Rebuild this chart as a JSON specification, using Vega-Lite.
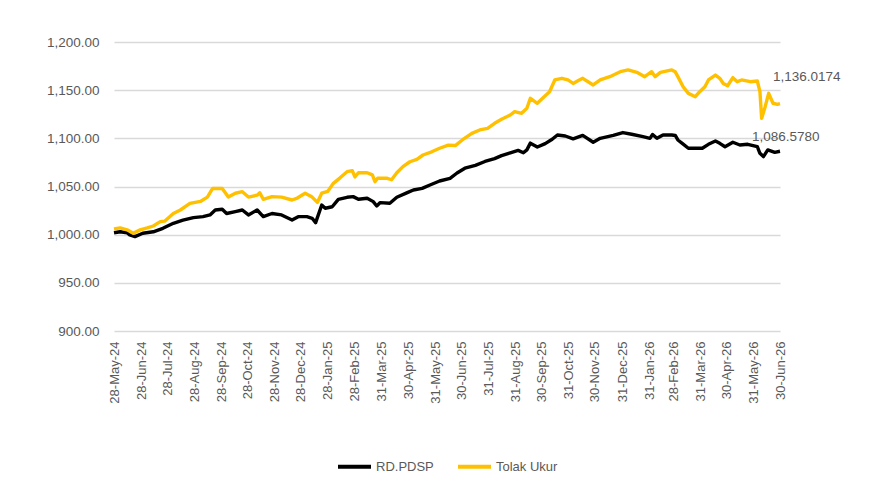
{
  "$schema": "https://vega.github.io/schema/vega-lite/v6.json",
  "width": 666,
  "height": 289,
  "autosize": {"type": "none"},
  "padding": {"left": 114, "top": 42, "right": 92, "bottom": 155},
  "background": "white",
  "config": {"view": {"stroke": null}, "font": "Liberation Sans"},
  "data": {
    "values": [
      {"date":"2024-05-28","series":"RD.PDSP","value":1002},
      {"date":"2024-06-04","series":"RD.PDSP","value":1003},
      {"date":"2024-06-12","series":"RD.PDSP","value":1002},
      {"date":"2024-06-15","series":"RD.PDSP","value":999.7},
      {"date":"2024-06-21","series":"RD.PDSP","value":998},
      {"date":"2024-06-30","series":"RD.PDSP","value":1001.5},
      {"date":"2024-07-12","series":"RD.PDSP","value":1003},
      {"date":"2024-07-23","series":"RD.PDSP","value":1006.6},
      {"date":"2024-08-04","series":"RD.PDSP","value":1011.8},
      {"date":"2024-08-15","series":"RD.PDSP","value":1015},
      {"date":"2024-08-27","series":"RD.PDSP","value":1017.7},
      {"date":"2024-09-07","series":"RD.PDSP","value":1018.7},
      {"date":"2024-09-15","series":"RD.PDSP","value":1020.5},
      {"date":"2024-09-21","series":"RD.PDSP","value":1025.6},
      {"date":"2024-09-29","series":"RD.PDSP","value":1026.4},
      {"date":"2024-10-04","series":"RD.PDSP","value":1022},
      {"date":"2024-10-14","series":"RD.PDSP","value":1024},
      {"date":"2024-10-22","series":"RD.PDSP","value":1025.6},
      {"date":"2024-10-29","series":"RD.PDSP","value":1020.5},
      {"date":"2024-11-08","series":"RD.PDSP","value":1025.6},
      {"date":"2024-11-15","series":"RD.PDSP","value":1018.7},
      {"date":"2024-11-25","series":"RD.PDSP","value":1022},
      {"date":"2024-12-06","series":"RD.PDSP","value":1020.5},
      {"date":"2024-12-18","series":"RD.PDSP","value":1015.2},
      {"date":"2024-12-25","series":"RD.PDSP","value":1018.7},
      {"date":"2025-01-04","series":"RD.PDSP","value":1018.7},
      {"date":"2025-01-10","series":"RD.PDSP","value":1017},
      {"date":"2025-01-14","series":"RD.PDSP","value":1012.5},
      {"date":"2025-01-21","series":"RD.PDSP","value":1030.8},
      {"date":"2025-01-25","series":"RD.PDSP","value":1027.4},
      {"date":"2025-02-02","series":"RD.PDSP","value":1029},
      {"date":"2025-02-09","series":"RD.PDSP","value":1036.7},
      {"date":"2025-02-19","series":"RD.PDSP","value":1038.8},
      {"date":"2025-02-26","series":"RD.PDSP","value":1039.5},
      {"date":"2025-03-04","series":"RD.PDSP","value":1036.7},
      {"date":"2025-03-14","series":"RD.PDSP","value":1037.8},
      {"date":"2025-03-21","series":"RD.PDSP","value":1034.3},
      {"date":"2025-03-25","series":"RD.PDSP","value":1029.8},
      {"date":"2025-03-29","series":"RD.PDSP","value":1033.3},
      {"date":"2025-04-09","series":"RD.PDSP","value":1032.6},
      {"date":"2025-04-17","series":"RD.PDSP","value":1038.8},
      {"date":"2025-04-29","series":"RD.PDSP","value":1043.6},
      {"date":"2025-05-06","series":"RD.PDSP","value":1046.4},
      {"date":"2025-05-16","series":"RD.PDSP","value":1048},
      {"date":"2025-05-25","series":"RD.PDSP","value":1051.6},
      {"date":"2025-06-05","series":"RD.PDSP","value":1055.7},
      {"date":"2025-06-17","series":"RD.PDSP","value":1058.5},
      {"date":"2025-06-25","series":"RD.PDSP","value":1064},
      {"date":"2025-07-04","series":"RD.PDSP","value":1069},
      {"date":"2025-07-16","series":"RD.PDSP","value":1072},
      {"date":"2025-07-27","series":"RD.PDSP","value":1076},
      {"date":"2025-08-07","series":"RD.PDSP","value":1079},
      {"date":"2025-08-15","series":"RD.PDSP","value":1082},
      {"date":"2025-08-25","series":"RD.PDSP","value":1085},
      {"date":"2025-09-03","series":"RD.PDSP","value":1087.5},
      {"date":"2025-09-09","series":"RD.PDSP","value":1085},
      {"date":"2025-09-13","series":"RD.PDSP","value":1088},
      {"date":"2025-09-17","series":"RD.PDSP","value":1095},
      {"date":"2025-09-25","series":"RD.PDSP","value":1091},
      {"date":"2025-10-04","series":"RD.PDSP","value":1094.5},
      {"date":"2025-10-12","series":"RD.PDSP","value":1099},
      {"date":"2025-10-18","series":"RD.PDSP","value":1103.5},
      {"date":"2025-10-27","series":"RD.PDSP","value":1102.4},
      {"date":"2025-11-05","series":"RD.PDSP","value":1099.5},
      {"date":"2025-11-16","series":"RD.PDSP","value":1103},
      {"date":"2025-11-28","series":"RD.PDSP","value":1095.9},
      {"date":"2025-12-06","series":"RD.PDSP","value":1100},
      {"date":"2025-12-21","series":"RD.PDSP","value":1103},
      {"date":"2026-01-01","series":"RD.PDSP","value":1106},
      {"date":"2026-01-11","series":"RD.PDSP","value":1104.2},
      {"date":"2026-01-24","series":"RD.PDSP","value":1101.7},
      {"date":"2026-02-01","series":"RD.PDSP","value":1100},
      {"date":"2026-02-04","series":"RD.PDSP","value":1104},
      {"date":"2026-02-09","series":"RD.PDSP","value":1100},
      {"date":"2026-02-16","series":"RD.PDSP","value":1103.5},
      {"date":"2026-02-26","series":"RD.PDSP","value":1103.5},
      {"date":"2026-03-02","series":"RD.PDSP","value":1103},
      {"date":"2026-03-05","series":"RD.PDSP","value":1098.3},
      {"date":"2026-03-10","series":"RD.PDSP","value":1094.8},
      {"date":"2026-03-17","series":"RD.PDSP","value":1089.7},
      {"date":"2026-04-02","series":"RD.PDSP","value":1089.7},
      {"date":"2026-04-09","series":"RD.PDSP","value":1093.8},
      {"date":"2026-04-17","series":"RD.PDSP","value":1097.2},
      {"date":"2026-04-22","series":"RD.PDSP","value":1094.8},
      {"date":"2026-04-28","series":"RD.PDSP","value":1091.3},
      {"date":"2026-05-07","series":"RD.PDSP","value":1095.9},
      {"date":"2026-05-15","series":"RD.PDSP","value":1093.1},
      {"date":"2026-05-24","series":"RD.PDSP","value":1093.8},
      {"date":"2026-06-04","series":"RD.PDSP","value":1091.3},
      {"date":"2026-06-07","series":"RD.PDSP","value":1084.5},
      {"date":"2026-06-11","series":"RD.PDSP","value":1081},
      {"date":"2026-06-16","series":"RD.PDSP","value":1088},
      {"date":"2026-06-24","series":"RD.PDSP","value":1085.5},
      {"date":"2026-06-30","series":"RD.PDSP","value":1086.578},
      {"date":"2024-05-28","series":"Tolak Ukur","value":1006},
      {"date":"2024-06-04","series":"Tolak Ukur","value":1007},
      {"date":"2024-06-12","series":"Tolak Ukur","value":1005},
      {"date":"2024-06-19","series":"Tolak Ukur","value":1001.5},
      {"date":"2024-06-27","series":"Tolak Ukur","value":1005},
      {"date":"2024-07-05","series":"Tolak Ukur","value":1007},
      {"date":"2024-07-12","series":"Tolak Ukur","value":1009},
      {"date":"2024-07-20","series":"Tolak Ukur","value":1013.5},
      {"date":"2024-07-25","series":"Tolak Ukur","value":1014},
      {"date":"2024-08-04","series":"Tolak Ukur","value":1022},
      {"date":"2024-08-12","series":"Tolak Ukur","value":1025.6},
      {"date":"2024-08-23","series":"Tolak Ukur","value":1032.5},
      {"date":"2024-09-04","series":"Tolak Ukur","value":1034.5},
      {"date":"2024-09-12","series":"Tolak Ukur","value":1039},
      {"date":"2024-09-18","series":"Tolak Ukur","value":1048},
      {"date":"2024-09-29","series":"Tolak Ukur","value":1048},
      {"date":"2024-10-06","series":"Tolak Ukur","value":1039},
      {"date":"2024-10-14","series":"Tolak Ukur","value":1043},
      {"date":"2024-10-22","series":"Tolak Ukur","value":1044.6},
      {"date":"2024-10-29","series":"Tolak Ukur","value":1039},
      {"date":"2024-11-08","series":"Tolak Ukur","value":1041},
      {"date":"2024-11-11","series":"Tolak Ukur","value":1043.5},
      {"date":"2024-11-15","series":"Tolak Ukur","value":1036.7},
      {"date":"2024-11-25","series":"Tolak Ukur","value":1039.5},
      {"date":"2024-12-06","series":"Tolak Ukur","value":1039},
      {"date":"2024-12-18","series":"Tolak Ukur","value":1036},
      {"date":"2024-12-24","series":"Tolak Ukur","value":1038},
      {"date":"2025-01-02","series":"Tolak Ukur","value":1043},
      {"date":"2025-01-10","series":"Tolak Ukur","value":1039},
      {"date":"2025-01-16","series":"Tolak Ukur","value":1033.5},
      {"date":"2025-01-21","series":"Tolak Ukur","value":1043},
      {"date":"2025-01-28","series":"Tolak Ukur","value":1045},
      {"date":"2025-02-03","series":"Tolak Ukur","value":1053},
      {"date":"2025-02-11","series":"Tolak Ukur","value":1059},
      {"date":"2025-02-19","series":"Tolak Ukur","value":1065.4},
      {"date":"2025-02-25","series":"Tolak Ukur","value":1066.4},
      {"date":"2025-02-28","series":"Tolak Ukur","value":1060},
      {"date":"2025-03-04","series":"Tolak Ukur","value":1064.3},
      {"date":"2025-03-14","series":"Tolak Ukur","value":1064.3},
      {"date":"2025-03-20","series":"Tolak Ukur","value":1062},
      {"date":"2025-03-23","series":"Tolak Ukur","value":1055},
      {"date":"2025-03-26","series":"Tolak Ukur","value":1058.5},
      {"date":"2025-04-06","series":"Tolak Ukur","value":1058.5},
      {"date":"2025-04-11","series":"Tolak Ukur","value":1057},
      {"date":"2025-04-17","series":"Tolak Ukur","value":1064.3},
      {"date":"2025-04-24","series":"Tolak Ukur","value":1070.6},
      {"date":"2025-05-02","series":"Tolak Ukur","value":1075.7},
      {"date":"2025-05-10","series":"Tolak Ukur","value":1078.2},
      {"date":"2025-05-17","series":"Tolak Ukur","value":1082.7},
      {"date":"2025-05-27","series":"Tolak Ukur","value":1086},
      {"date":"2025-06-05","series":"Tolak Ukur","value":1089.7},
      {"date":"2025-06-15","series":"Tolak Ukur","value":1093},
      {"date":"2025-06-23","series":"Tolak Ukur","value":1092.5},
      {"date":"2025-07-01","series":"Tolak Ukur","value":1098.3},
      {"date":"2025-07-12","series":"Tolak Ukur","value":1105.2},
      {"date":"2025-07-21","series":"Tolak Ukur","value":1108.7},
      {"date":"2025-07-30","series":"Tolak Ukur","value":1110.4},
      {"date":"2025-08-07","series":"Tolak Ukur","value":1115.6},
      {"date":"2025-08-15","series":"Tolak Ukur","value":1119.8},
      {"date":"2025-08-25","series":"Tolak Ukur","value":1124.2},
      {"date":"2025-08-30","series":"Tolak Ukur","value":1127.7},
      {"date":"2025-09-07","series":"Tolak Ukur","value":1126},
      {"date":"2025-09-13","series":"Tolak Ukur","value":1131.2},
      {"date":"2025-09-17","series":"Tolak Ukur","value":1141.6},
      {"date":"2025-09-25","series":"Tolak Ukur","value":1136.4},
      {"date":"2025-10-01","series":"Tolak Ukur","value":1141.6},
      {"date":"2025-10-09","series":"Tolak Ukur","value":1148.4},
      {"date":"2025-10-15","series":"Tolak Ukur","value":1160.6},
      {"date":"2025-10-23","series":"Tolak Ukur","value":1162.3},
      {"date":"2025-10-30","series":"Tolak Ukur","value":1160.6},
      {"date":"2025-11-05","series":"Tolak Ukur","value":1157},
      {"date":"2025-11-11","series":"Tolak Ukur","value":1160},
      {"date":"2025-11-16","series":"Tolak Ukur","value":1162.3},
      {"date":"2025-11-28","series":"Tolak Ukur","value":1155.4},
      {"date":"2025-12-06","series":"Tolak Ukur","value":1160.6},
      {"date":"2025-12-17","series":"Tolak Ukur","value":1164},
      {"date":"2025-12-29","series":"Tolak Ukur","value":1169.2},
      {"date":"2026-01-07","series":"Tolak Ukur","value":1171},
      {"date":"2026-01-17","series":"Tolak Ukur","value":1168.5},
      {"date":"2026-01-26","series":"Tolak Ukur","value":1164},
      {"date":"2026-02-03","series":"Tolak Ukur","value":1169.2},
      {"date":"2026-02-07","series":"Tolak Ukur","value":1164},
      {"date":"2026-02-13","series":"Tolak Ukur","value":1168.5},
      {"date":"2026-02-26","series":"Tolak Ukur","value":1171},
      {"date":"2026-03-02","series":"Tolak Ukur","value":1169},
      {"date":"2026-03-05","series":"Tolak Ukur","value":1164},
      {"date":"2026-03-11","series":"Tolak Ukur","value":1153.6},
      {"date":"2026-03-17","series":"Tolak Ukur","value":1146.7},
      {"date":"2026-03-25","series":"Tolak Ukur","value":1143.2},
      {"date":"2026-03-30","series":"Tolak Ukur","value":1148.4},
      {"date":"2026-04-05","series":"Tolak Ukur","value":1153.6},
      {"date":"2026-04-09","series":"Tolak Ukur","value":1160.6},
      {"date":"2026-04-17","series":"Tolak Ukur","value":1165.7},
      {"date":"2026-04-22","series":"Tolak Ukur","value":1162.3},
      {"date":"2026-04-26","series":"Tolak Ukur","value":1157},
      {"date":"2026-05-01","series":"Tolak Ukur","value":1154.6},
      {"date":"2026-05-07","series":"Tolak Ukur","value":1163},
      {"date":"2026-05-12","series":"Tolak Ukur","value":1158.8},
      {"date":"2026-05-17","series":"Tolak Ukur","value":1160.6},
      {"date":"2026-05-27","series":"Tolak Ukur","value":1158.8},
      {"date":"2026-06-04","series":"Tolak Ukur","value":1159.5},
      {"date":"2026-06-07","series":"Tolak Ukur","value":1148.4},
      {"date":"2026-06-09","series":"Tolak Ukur","value":1120.8},
      {"date":"2026-06-13","series":"Tolak Ukur","value":1132.9},
      {"date":"2026-06-17","series":"Tolak Ukur","value":1146.7},
      {"date":"2026-06-22","series":"Tolak Ukur","value":1136.4},
      {"date":"2026-06-27","series":"Tolak Ukur","value":1135.3},
      {"date":"2026-06-30","series":"Tolak Ukur","value":1136.0174}
    ]
  },
  "encoding": {
    "x": {
      "field": "date",
      "type": "temporal",
      "scale": {
        "type": "utc",
        "domain": [
          {"year": 2024, "month": 5, "date": 28, "utc": true},
          {"year": 2026, "month": 6, "date": 30, "utc": true}
        ],
        "nice": false
      },
      "axis": {
        "title": null,
        "format": "%d-%b-%y",
        "labelAngle": 270,
        "labelPadding": 10,
        "labelFontSize": 13,
        "labelColor": "#595959",
        "labelOverlap": false,
        "labelBound": false,
        "labelFlush": false,
        "domain": false,
        "ticks": false,
        "grid": false,
        "values": [
          {"year": 2024, "month": 5, "date": 28, "utc": true},
          {"year": 2024, "month": 6, "date": 28, "utc": true},
          {"year": 2024, "month": 7, "date": 28, "utc": true},
          {"year": 2024, "month": 8, "date": 28, "utc": true},
          {"year": 2024, "month": 9, "date": 28, "utc": true},
          {"year": 2024, "month": 10, "date": 28, "utc": true},
          {"year": 2024, "month": 11, "date": 28, "utc": true},
          {"year": 2024, "month": 12, "date": 28, "utc": true},
          {"year": 2025, "month": 1, "date": 28, "utc": true},
          {"year": 2025, "month": 2, "date": 28, "utc": true},
          {"year": 2025, "month": 3, "date": 31, "utc": true},
          {"year": 2025, "month": 4, "date": 30, "utc": true},
          {"year": 2025, "month": 5, "date": 31, "utc": true},
          {"year": 2025, "month": 6, "date": 30, "utc": true},
          {"year": 2025, "month": 7, "date": 31, "utc": true},
          {"year": 2025, "month": 8, "date": 31, "utc": true},
          {"year": 2025, "month": 9, "date": 30, "utc": true},
          {"year": 2025, "month": 10, "date": 31, "utc": true},
          {"year": 2025, "month": 11, "date": 30, "utc": true},
          {"year": 2025, "month": 12, "date": 31, "utc": true},
          {"year": 2026, "month": 1, "date": 31, "utc": true},
          {"year": 2026, "month": 2, "date": 28, "utc": true},
          {"year": 2026, "month": 3, "date": 31, "utc": true},
          {"year": 2026, "month": 4, "date": 30, "utc": true},
          {"year": 2026, "month": 5, "date": 31, "utc": true},
          {"year": 2026, "month": 6, "date": 30, "utc": true}
        ]
      }
    },
    "y": {
      "field": "value",
      "type": "quantitative",
      "scale": {"domain": [900, 1200], "nice": false, "zero": false},
      "axis": {
        "title": null,
        "values": [900, 950, 1000, 1050, 1100, 1150, 1200],
        "format": ",.2f",
        "labelPadding": 15,
        "labelFontSize": 13.5,
        "labelColor": "#595959",
        "domain": false,
        "ticks": false,
        "grid": true,
        "gridColor": "#d9d9d9",
        "gridWidth": 1.5
      }
    }
  },
  "layer": [
    {
      "mark": {"type": "line", "strokeWidth": 3.4, "strokeJoin": "round"},
      "encoding": {
        "color": {
          "field": "series",
          "type": "nominal",
          "scale": {"domain": ["RD.PDSP", "Tolak Ukur"], "range": ["#000000", "#FFC000"]},
          "legend": {
            "title": null,
            "orient": "none",
            "direction": "horizontal",
            "legendX": 222,
            "legendY": 406,
            "symbolType": "stroke",
            "symbolSize": 1089,
            "symbolStrokeWidth": 4,
            "labelFontSize": 13,
            "labelColor": "#595959",
            "labelOffset": 3,
            "columnPadding": 16
          }
        }
      }
    },
    {
      "transform": [{"filter": "datum.series === 'Tolak Ukur' && utcyear(datum.date) === 2026 && utcmonth(datum.date) === 5 && utcdate(datum.date) === 30"}],
      "mark": {"type": "text", "align": "left", "baseline": "middle", "dx": -7, "dy": -27, "fontSize": 13.5, "color": "#595959"},
      "encoding": {"text": {"field": "value", "type": "quantitative", "format": ",.4f"}}
    },
    {
      "transform": [{"filter": "datum.series === 'RD.PDSP' && utcyear(datum.date) === 2026 && utcmonth(datum.date) === 5 && utcdate(datum.date) === 30"}],
      "mark": {"type": "text", "align": "left", "baseline": "middle", "dx": -28, "dy": -14, "fontSize": 13.5, "color": "#595959"},
      "encoding": {"text": {"field": "value", "type": "quantitative", "format": ",.4f"}}
    }
  ]
}
